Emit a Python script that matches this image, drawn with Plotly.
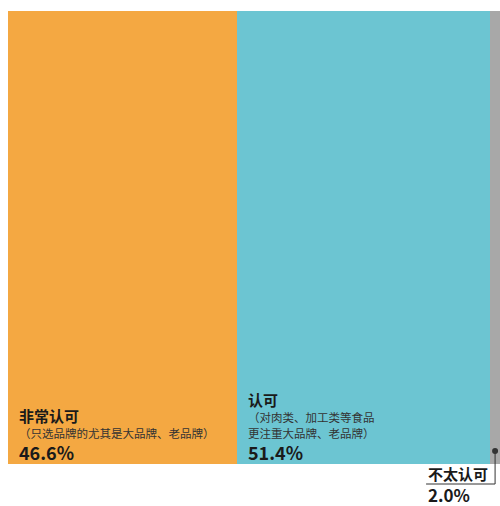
import plotly.graph_objects as go

# Attitude shares (percent of respondents)
categories = ["非常认可", "认可", "不太认可"]
notes = [["（只选品牌的尤其是大品牌、老品牌）"],
         ["（对肉类、加工类等食品", "更注重大品牌、老品牌）"],
         []]
shares = [46.6, 51.4, 2.0]
colors = ["#f4a842", "#6cc5d2", "#a8a8a8"]

FONT = "Noto Sans CJK SC"
TEXT = "#1a1a1a"
NOTE = "#333333"

# left edges and centres of each column along a 0-100 axis
lefts = []
acc = 0.0
for s in shares:
    lefts.append(acc)
    acc += s
centres = [l + s / 2 for l, s in zip(lefts, shares)]

fig = go.Figure(
    go.Bar(
        x=centres,
        y=[1] * len(shares),
        width=shares,
        marker=dict(color=colors, line=dict(width=0)),
        hoverinfo="skip",
    )
)

annotations = []


def label(x, xshift, yshift, text, size, color=TEXT):
    annotations.append(dict(
        x=x, xref="x", y=0, yref="paper",
        xanchor="left", yanchor="middle", align="left",
        showarrow=False, xshift=xshift, yshift=yshift,
        text=text, font=dict(family=FONT, size=size, color=color),
    ))


# labels inside the two wide columns, stacked upwards from the bottom edge
for i in range(2):
    shift = 12
    label(lefts[i], 9, shift, f"<b>{shares[i]:.1f}%</b>", 18)
    shift += 19.5
    for j, line in enumerate(reversed(notes[i])):
        if j:
            shift += 15.2
        label(lefts[i], 9, shift, line, 11.5, NOTE)
    shift += 17.5
    label(lefts[i], 9, shift, f"<b>{categories[i]}</b>", 15)

# the narrow column gets its label below the plot with a leader line
label(100, -74, -9, f"<b>{categories[2]}</b>", 15)
label(100, -74, -30, f"<b>{shares[2]:.1f}%</b>", 17)

PLOT_H = 506 - 11 - 42
PLOT_W = 500 - 8
gx = centres[2] / 100.0
dot_y = 13 / PLOT_H
elbow_y = -20 / PLOT_H
end_x = gx - 69 / PLOT_W

shapes = [
    dict(type="line", xref="paper", yref="paper", x0=gx, x1=gx, y0=dot_y, y1=elbow_y,
         line=dict(color="#333333", width=1)),
    dict(type="line", xref="paper", yref="paper", x0=gx, x1=end_x, y0=elbow_y, y1=elbow_y,
         line=dict(color="#333333", width=1)),
    dict(type="circle", xref="paper", yref="paper",
         x0=gx - 3 / PLOT_W, x1=gx + 3 / PLOT_W,
         y0=dot_y - 3 / PLOT_H, y1=dot_y + 3 / PLOT_H,
         fillcolor="#333333", line=dict(width=0)),
]

fig.update_layout(
    width=500, height=506,
    margin=dict(l=8, r=0, t=11, b=42),
    paper_bgcolor="white", plot_bgcolor="white",
    showlegend=False,
    bargap=0,
    xaxis=dict(range=[0, 100], visible=False, fixedrange=True),
    yaxis=dict(range=[0, 1], visible=False, fixedrange=True),
    annotations=annotations,
    shapes=shapes,
    font=dict(family=FONT),
)

fig.write_html("out.html", config={"displayModeBar": False})
